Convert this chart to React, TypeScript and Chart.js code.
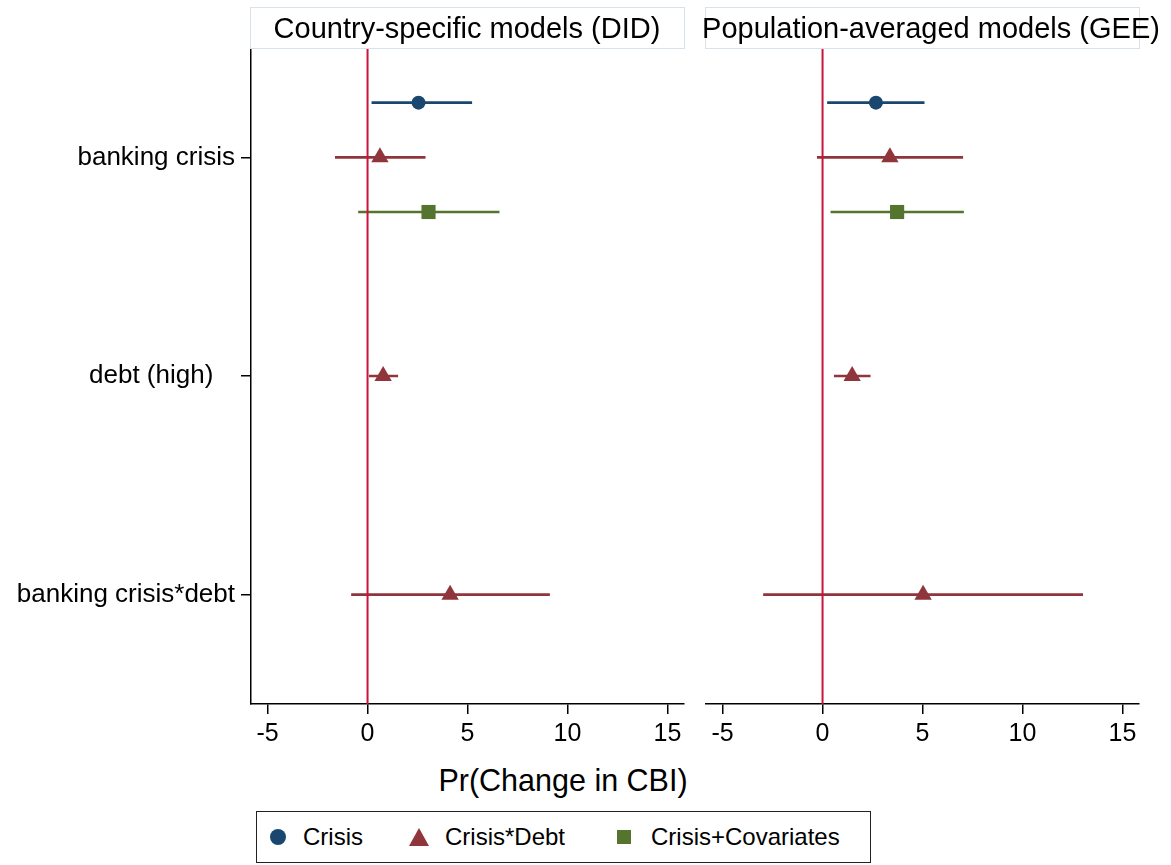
import React, { useEffect, useRef } from "react";
import { Chart, registerables } from "chart.js";

Chart.register(...registerables);

// ---------------- data ----------------
const CATEGORIES = ["banking crisis", "debt (high)   ", "banking crisis*debt"];
const CATEGORY_POS = [1, 2, 3];
const X_TICKS = [-5, 0, 5, 10, 15];
const SERIES_NAMES = ["Crisis", "Crisis*Debt", "Crisis+Covariates"];
const PANEL_TITLES = ["Country-specific models (DID)", "Population-averaged models (GEE)"];
const X_TITLE = "Pr(Change in CBI)";
const REFERENCE_X = 0;

// Country-specific models (DID)
const DID_CRISIS_EST = [2.55, null, null];
const DID_CRISIS_LO = [0.2, null, null];
const DID_CRISIS_HI = [5.23, null, null];
const DID_DEBT_EST = [0.62, 0.78, 4.13];
const DID_DEBT_LO = [-1.63, 0.07, -0.82];
const DID_DEBT_HI = [2.9, 1.53, 9.12];
const DID_COV_EST = [3.05, null, null];
const DID_COV_LO = [-0.47, null, null];
const DID_COV_HI = [6.6, null, null];

// Population-averaged models (GEE)
const GEE_CRISIS_EST = [2.67, null, null];
const GEE_CRISIS_LO = [0.23, null, null];
const GEE_CRISIS_HI = [5.1, null, null];
const GEE_DEBT_EST = [3.37, 1.48, 5.03];
const GEE_DEBT_LO = [-0.28, 0.57, -2.97];
const GEE_DEBT_HI = [7.03, 2.4, 13.03];
const GEE_COV_EST = [3.73, null, null];
const GEE_COV_LO = [0.4, null, null];
const GEE_COV_HI = [7.07, null, null];

// ---------------- styles ----------------
const FONT = "'Liberation Sans', Arial, Helvetica, sans-serif";
const COLORS = ["#1a476f", "#90353b", "#55752f"];
const POINT_STYLES = ["circle", "triangle", "rect"];
const POINT_RADII = [7, 10, 10];
const SERIES_OFFSET = [-0.25, 0, 0.25];
const ZERO_COLOR = "#c9143e";
const Y_MIN = 0.5;
const Y_MAX = 3.5;
const X_MIN = -5.83;
const X_MAX = 15.83;

type Series = { est: (number | null)[]; lo: (number | null)[]; hi: (number | null)[] };

const DID: Series[] = [
  { est: DID_CRISIS_EST, lo: DID_CRISIS_LO, hi: DID_CRISIS_HI },
  { est: DID_DEBT_EST, lo: DID_DEBT_LO, hi: DID_DEBT_HI },
  { est: DID_COV_EST, lo: DID_COV_LO, hi: DID_COV_HI },
];
const GEE: Series[] = [
  { est: GEE_CRISIS_EST, lo: GEE_CRISIS_LO, hi: GEE_CRISIS_HI },
  { est: GEE_DEBT_EST, lo: GEE_DEBT_LO, hi: GEE_DEBT_HI },
  { est: GEE_COV_EST, lo: GEE_COV_LO, hi: GEE_COV_HI },
];

function buildDatasets(series: Series[]) {
  const markers = series.map((s, k) => ({
    type: "scatter" as const,
    label: SERIES_NAMES[k],
    data: s.est
      .map((v, i) => (v === null ? null : { x: v, y: CATEGORY_POS[i] + SERIES_OFFSET[k] }))
      .filter((p) => p !== null),
    pointStyle: POINT_STYLES[k],
    pointRadius: POINT_RADII[k],
    pointBackgroundColor: COLORS[k],
    pointBorderColor: COLORS[k],
    pointBorderWidth: 0,
    showLine: false,
  }));
  const zero = {
    type: "scatter" as const,
    label: "zero",
    data: [
      { x: REFERENCE_X, y: Y_MIN },
      { x: REFERENCE_X, y: Y_MAX },
    ],
    showLine: true,
    borderColor: ZERO_COLOR,
    borderWidth: 2,
    pointRadius: 0,
  };
  const cis = series.map((s, k) => {
    const data: any[] = [];
    s.est.forEach((v, i) => {
      if (v === null) return;
      const y = CATEGORY_POS[i] + SERIES_OFFSET[k];
      data.push({ x: s.lo[i], y }, { x: s.hi[i], y }, { x: null, y: null });
    });
    return {
      type: "scatter" as const,
      label: SERIES_NAMES[k] + " CI",
      data,
      showLine: true,
      spanGaps: false,
      borderColor: COLORS[k],
      borderWidth: 2.6,
      pointRadius: 0,
    };
  });
  return [...markers, zero, ...cis];
}

function makeChart(canvas: HTMLCanvasElement, series: Series[], showY: boolean, padLeft: number, padRight: number) {
  const axisGrid = {
    display: true,
    drawOnChartArea: false,
    drawTicks: true,
    tickLength: 10,
    color: "#000",
    lineWidth: 1.5,
  };
  return new Chart(canvas, {
    type: "scatter",
    data: { datasets: buildDatasets(series) as any },
    options: {
      animation: false,
      responsive: false,
      devicePixelRatio: 1,
      events: [],
      layout: { padding: { left: padLeft, right: padRight, top: 48, bottom: 0 } },
      plugins: { legend: { display: false }, tooltip: { enabled: false }, title: { display: false } },
      scales: {
        x: {
          type: "linear",
          min: X_MIN,
          max: X_MAX,
          afterBuildTicks: (s: any) => {
            s.ticks = X_TICKS.map((v) => ({ value: v }));
          },
          afterFit: (s: any) => {
            s.height = 56;
          },
          ticks: {
            autoSkip: false,
            maxRotation: 0,
            padding: 5,
            color: "#000",
            font: { family: FONT, size: 25 },
            callback: (v: any) => String(v),
          },
          grid: axisGrid,
          border: { display: true, color: "#000", width: 1.5 },
        },
        y: {
          type: "linear",
          display: showY,
          min: Y_MIN,
          max: Y_MAX,
          reverse: true,
          afterBuildTicks: (s: any) => {
            s.ticks = CATEGORY_POS.map((v) => ({ value: v }));
          },
          afterFit: (s: any) => {
            s.width = showY ? 251 : 0;
          },
          ticks: {
            autoSkip: false,
            padding: 6,
            color: "#000",
            font: { family: FONT, size: 26 },
            callback: (v: any) => {
              const idx = CATEGORY_POS.indexOf(v);
              return idx >= 0 ? CATEGORIES[idx] : "";
            },
          },
          grid: axisGrid,
          border: { display: true, color: "#000", width: 1.5 },
        },
      },
    } as any,
  });
}

function LegendMarker({ k }: { k: number }) {
  const c = COLORS[k];
  if (k === 0)
    return (
      <svg width="18" height="18" viewBox="0 0 18 18">
        <circle cx="9" cy="9" r="8" fill={c} />
      </svg>
    );
  if (k === 1)
    return (
      <svg width="22" height="20" viewBox="0 0 22 20">
        <polygon points="11,1 21,19 1,19" fill={c} />
      </svg>
    );
  return (
    <svg width="16" height="16" viewBox="0 0 16 16">
      <rect x="1" y="1" width="14" height="14" fill={c} />
    </svg>
  );
}

export default function App() {
  const leftRef = useRef<HTMLCanvasElement>(null);
  const rightRef = useRef<HTMLCanvasElement>(null);

  useEffect(() => {
    const a = makeChart(leftRef.current!, DID, true, 0, 11);
    const b = makeChart(rightRef.current!, GEE, false, 11, 32);
    return () => {
      a.destroy();
      b.destroy();
    };
  }, []);

  const boxStyle: React.CSSProperties = {
    position: "absolute",
    top: 7,
    height: 42,
    boxSizing: "border-box",
    border: "1.5px solid #d7e2ea",
    background: "#ffffff",
  };
  const titleText: React.CSSProperties = {
    position: "absolute",
    top: 7,
    height: 42,
    lineHeight: "42px",
    fontFamily: FONT,
    fontSize: 29,
    color: "#000",
    whiteSpace: "nowrap",
    textAlign: "center",
    width: 600,
  };

  const legendItems = [
    { mx: 21, tx: 46 },
    { mx: 162, tx: 188 },
    { mx: 367, tx: 394 },
  ];

  return (
    <div
      style={{
        position: "absolute",
        left: 0,
        top: 0,
        width: 1171,
        height: 865,
        background: "#fff",
        overflow: "hidden",
        fontFamily: FONT,
      }}
    >
      <canvas ref={leftRef} width={695} height={760} style={{ position: "absolute", left: 0, top: 0 }} />
      <canvas ref={rightRef} width={476} height={760} style={{ position: "absolute", left: 695, top: 0 }} />

      <div style={{ ...boxStyle, left: 250, width: 435 }} />
      <div style={{ ...boxStyle, left: 705, width: 435 }} />
      <div style={{ ...titleText, left: 467 - 300 }}>{PANEL_TITLES[0]}</div>
      <div style={{ ...titleText, left: 931 - 300 }}>{PANEL_TITLES[1]}</div>

      <div
        style={{
          position: "absolute",
          left: 563 - 300,
          width: 600,
          top: 763,
          lineHeight: "34px",
          fontSize: 30.5,
          textAlign: "center",
          color: "#000",
          whiteSpace: "nowrap",
        }}
      >
        {X_TITLE}
      </div>

      <div
        style={{
          position: "absolute",
          left: 256,
          top: 811,
          width: 615,
          height: 52,
          boxSizing: "border-box",
          border: "1.5px solid #222",
          background: "#fff",
        }}
      >
        {legendItems.map((it, k) => (
          <React.Fragment key={k}>
            <div
              style={{
                position: "absolute",
                left: it.mx - 12,
                top: 0,
                width: 24,
                height: 49,
                display: "flex",
                alignItems: "center",
                justifyContent: "center",
              }}
            >
              <LegendMarker k={k} />
            </div>
            <div
              style={{
                position: "absolute",
                left: it.tx,
                top: 0,
                height: 49,
                lineHeight: "49px",
                fontSize: 24,
                color: "#000",
                whiteSpace: "nowrap",
              }}
            >
              {SERIES_NAMES[k]}
            </div>
          </React.Fragment>
        ))}
      </div>
    </div>
  );
}
